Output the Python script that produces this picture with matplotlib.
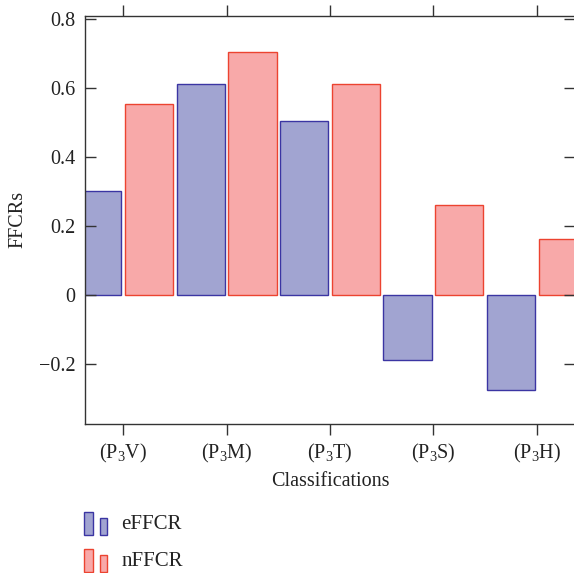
import matplotlib
matplotlib.use("Agg")
import matplotlib.pyplot as plt
import numpy as np
from matplotlib.patches import Rectangle

plt.rcParams['font.family'] = ['Liberation Serif', 'DejaVu Serif']
plt.rcParams['mathtext.fontset'] = 'custom'
plt.rcParams['mathtext.rm'] = 'Liberation Serif'
plt.rcParams['mathtext.it'] = 'Liberation Serif:italic'

categories = [r'(P$_3$V)', r'(P$_3$M)', r'(P$_3$T)', r'(P$_3$S)', r'(P$_3$H)']
effcr = [0.30, 0.61, 0.505, -0.19, -0.275]
nffcr = [0.552, 0.705, 0.61, 0.26, 0.162]
series_names = ['eFFCR', 'nFFCR']
yticks = [-0.2, 0, 0.2, 0.4, 0.6, 0.8]
yticklabels = ['\u22120.2', '0', '0.2', '0.4', '0.6', '0.8']

blue_face, blue_edge = '#a1a4d1', '#3b35a3'
red_face, red_edge = '#f8a9a9', '#ec4330'
txt = '#222222'
fs = 14.5

W, H = 574, 573
fig = plt.figure(figsize=(W/100, H/100), dpi=100)
ax = fig.add_axes([85/W, 1-423.5/H, (575-85)/W, (423.5-15.7)/H])

x = np.arange(1, len(categories)+1)
bw = 0.465
b1 = ax.bar(x-0.25, effcr, bw, color=blue_face, edgecolor=blue_edge, linewidth=1.0, label=series_names[0])
b2 = ax.bar(x+0.25, nffcr, bw, color=red_face, edgecolor=red_edge, linewidth=1.0, label=series_names[1])

ax.set_xlim(0.63, 5.37)
ax.set_ylim(-0.373, 0.809)
ax.set_xticks(x)
ax.set_xticklabels(categories, fontsize=fs, color=txt)
ax.set_yticks(yticks)
ax.set_yticklabels(yticklabels, fontsize=fs, color=txt)
ax.tick_params(axis='x', direction='out', top=True, bottom=True, length=8, width=1.0, color='#333333', pad=5)
ax.tick_params(axis='y', direction='in', left=True, right=True, length=8, width=1.0, color='#333333', pad=7)
for s in ax.spines.values():
    s.set_linewidth(1.0)
    s.set_color('#333333')

ax.set_ylabel('FFCRs', fontsize=fs, color=txt, labelpad=8)
ax.set_xlabel('Classifications', fontsize=fs, color=txt, labelpad=5)

# legend drawn manually in figure pixel coordinates (two small bars per entry)
def px(xp, yp):
    return xp / W, 1 - yp / H

entries = [(series_names[0], blue_face, blue_edge, 512.3, 535.0, 529.0),
           (series_names[1], red_face, red_edge, 549.0, 571.5, 566.0)]
for name, fc, ec, ytop, ybot, ybase in entries:
    h_big = ybot - ytop
    h_small = h_big * 0.75
    x0, y0 = px(84, ybot)
    fig.add_artist(Rectangle((x0, y0), 9/W, h_big/H, transform=fig.transFigure,
                             facecolor=fc, edgecolor=ec, linewidth=1.0))
    x1, _ = px(99.5, ybot)
    fig.add_artist(Rectangle((x1, y0), 7.5/W, h_small/H, transform=fig.transFigure,
                             facecolor=fc, edgecolor=ec, linewidth=1.0))
    tx, ty = px(121.5, ybase)
    fig.text(tx, ty, name, fontsize=15, color=txt, ha='left', va='baseline')

fig.savefig('out.png', dpi=100)
